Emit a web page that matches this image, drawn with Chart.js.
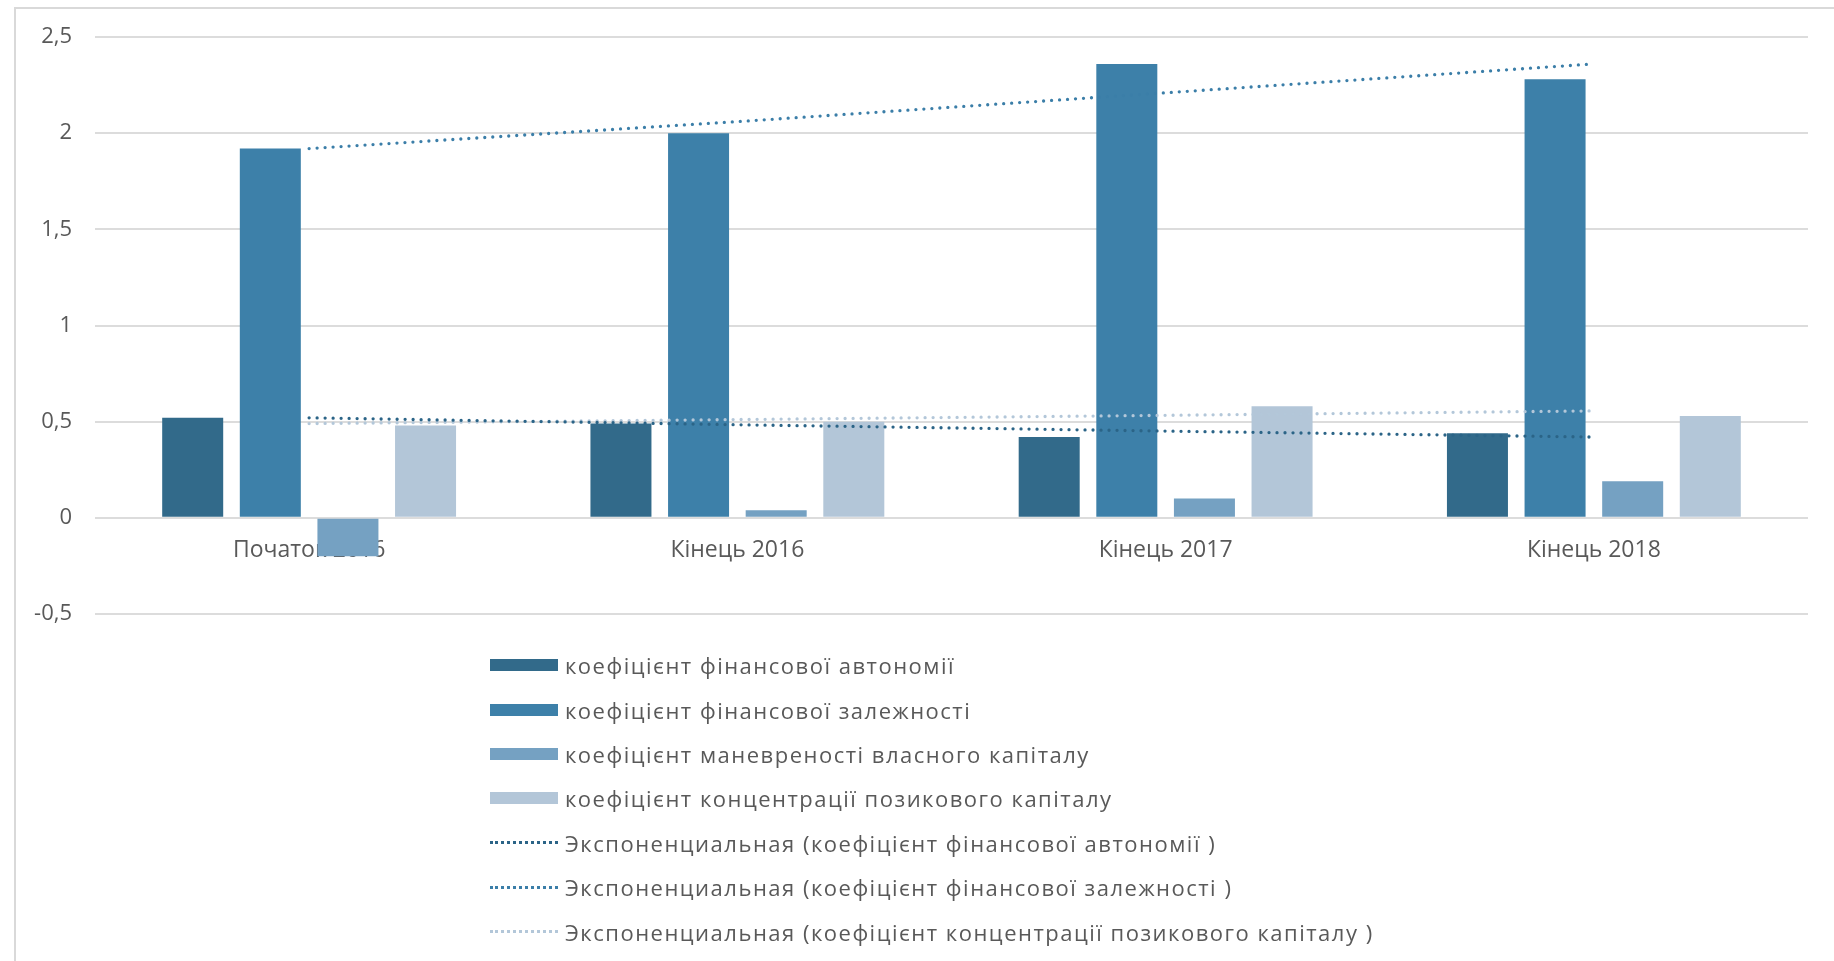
<!DOCTYPE html>
<html>
<head>
<meta charset="utf-8">
<script src="https://cdn.jsdelivr.net/npm/chart.js@4/dist/chart.umd.min.js"></script>
<style>
  body { margin: 0; background: #fff; }
  #wrap { position: relative; width: 1834px; height: 961px; overflow: hidden; font-family: "Open Sans", sans-serif; }
  #frame { position: absolute; left: 14px; top: 7px; width: 1900px; height: 1000px; border: 2px solid #d9d9d9; }
  #myChart { position: absolute; left: 0; top: 0; }
  #legend { position: absolute; left: 490px; top: 643px; }
  .row { height: 44.4px; display: flex; align-items: center; font-size: 22px; letter-spacing: 1.5px; color: #595959; white-space: nowrap; }
  .box { width: 68px; height: 12px; margin-right: 7px; }
  .dots { width: 68px; height: 0; border-top: 3px dotted; margin-right: 7px; }
</style>
</head>
<body>
<div id="wrap">
  <div id="frame"></div>
  <canvas id="myChart" width="1834" height="961"></canvas>
  <div id="legend"></div>
</div>
<script>
var categories = ["Початок 2016", "Кінець 2016", "Кінець 2017", "Кінець 2018"];

var autonomy = [0.52, 0.49, 0.42, 0.44];
var dependence = [1.92, 2.0, 2.36, 2.28];
var maneuver = [-0.2, 0.04, 0.1, 0.19];
var concentration = [0.48, 0.5, 0.58, 0.53];

// trend lines
var autonomyTrend = [0.52, 0.484, 0.451, 0.42];
var dependenceTrend = [1.92, 2.06, 2.21, 2.36];
var concentrationTrend = [0.49, 0.511, 0.533, 0.556];

var yTicks = [-0.5, 0, 0.5, 1, 1.5, 2, 2.5];

function trend(label, data, color) {
  return {
    type: 'line',
    label: label,
    data: data,
    borderColor: color,
    backgroundColor: color,
    borderWidth: 3.3,
    borderDash: [0, 8],
    borderCapStyle: 'round',
    pointRadius: 0,
    fill: false,
    order: -1
  };
}

var ctx = document.getElementById('myChart');
var chart = new Chart(ctx, {
  type: 'bar',
  data: {
    labels: categories,
    datasets: [
      { label: "коефіцієнт фінансової автономії", data: autonomy, backgroundColor: "#326a8a" },
      { label: "коефіцієнт фінансової залежності", data: dependence, backgroundColor: "#3d80a9" },
      { label: "коефіцієнт маневреності власного капіталу", data: maneuver, backgroundColor: "#75a1c2" },
      { label: "коефіцієнт концентрації позикового капіталу", data: concentration, backgroundColor: "#b3c6d8" },
      trend("Экспоненциальная (коефіцієнт фінансової автономії )", autonomyTrend, "#2b6487"),
      trend("Экспоненциальная (коефіцієнт фінансової залежності )", dependenceTrend, "#3b7ea8"),
      trend("Экспоненциальная (коефіцієнт концентрації позикового капіталу )", concentrationTrend, "#b3c7d9")
    ]
  },
  options: {
    responsive: false,
    animation: false,
    categoryPercentage: 0.725,
    barPercentage: 0.786,
    layout: { padding: { left: 0, top: 37, right: 26, bottom: 347 } },
    plugins: { legend: { display: false }, tooltip: { enabled: false } },
    scales: {
      x: {
        position: { y: 0 },
        z: 1,
        grid: { display: false },
        border: { display: false },
        ticks: { color: '#595959', font: { family: 'Open Sans', size: 23 }, padding: 11 },
        afterFit: function (s) { s.height = 0; }
      },
      y: {
        min: -0.5,
        max: 2.5,
        afterBuildTicks: function (s) { s.ticks = yTicks.map(function (v) { return { value: v }; }); },
        grid: { color: '#dcdcdc', lineWidth: 2, drawTicks: false },
        border: { display: false },
        ticks: {
          color: '#595959',
          font: { family: 'Open Sans', size: 22 },
          padding: 23,
          callback: function (v) { return String(v).replace('.', ','); }
        },
        afterFit: function (s) { s.width = 95; }
      }
    }
  }
});

// legend in one column, built from the chart datasets
var legend = document.getElementById('legend');
chart.data.datasets.forEach(function (ds) {
  var row = document.createElement('div');
  row.className = 'row';
  var mark = document.createElement('div');
  if (ds.type === 'line') {
    mark.className = 'dots';
    mark.style.borderColor = ds.borderColor;
  } else {
    mark.className = 'box';
    mark.style.background = ds.backgroundColor;
  }
  var txt = document.createElement('span');
  txt.textContent = ds.label;
  row.appendChild(mark);
  row.appendChild(txt);
  legend.appendChild(row);
});
</script>
</body>
</html>
